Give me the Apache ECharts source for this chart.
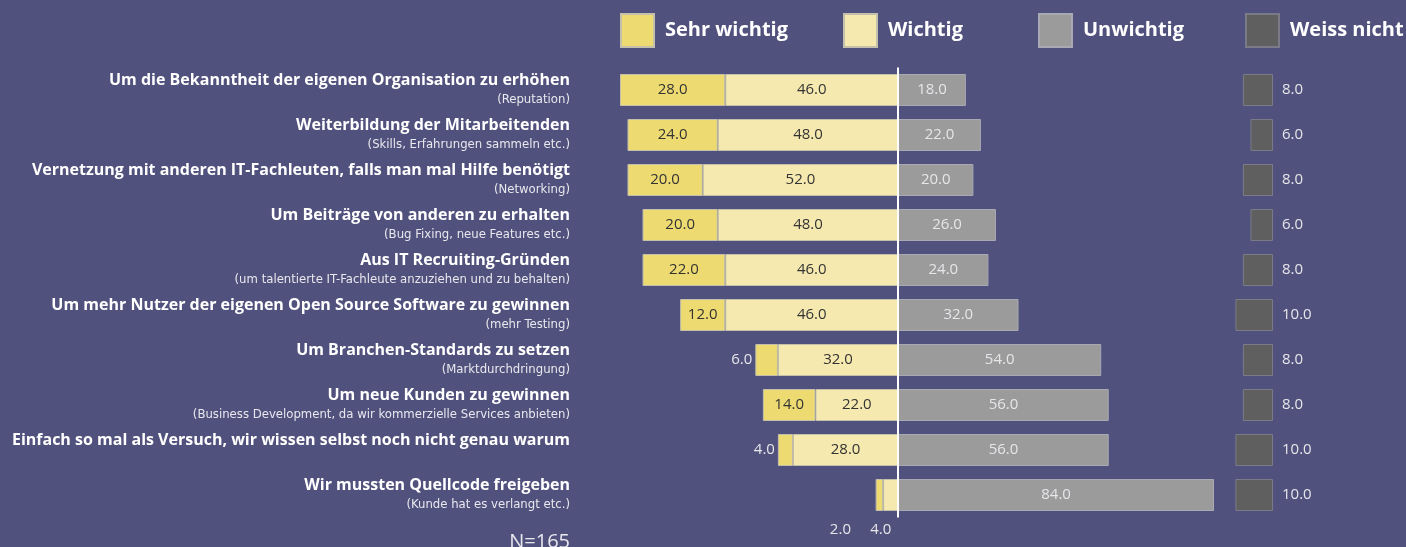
<!DOCTYPE html>
<html>
<head>
<meta charset="utf-8">
<script src="https://cdn.jsdelivr.net/npm/echarts@6/dist/echarts.min.js"></script>
<style>
  html, body { margin: 0; padding: 0; background: #51517d; }
  #main { width: 1406px; height: 547px; }
</style>
</head>
<body>
<div id="main"></div>
<script>
// Daten
var gruende = [
    'Um die Bekanntheit der eigenen Organisation zu erhöhen',
    'Weiterbildung der Mitarbeitenden',
    'Vernetzung mit anderen IT-Fachleuten, falls man mal Hilfe benötigt',
    'Um Beiträge von anderen zu erhalten',
    'Aus IT Recruiting-Gründen',
    'Um mehr Nutzer der eigenen Open Source Software zu gewinnen',
    'Um Branchen-Standards zu setzen',
    'Um neue Kunden zu gewinnen',
    'Einfach so mal als Versuch, wir wissen selbst noch nicht genau warum',
    'Wir mussten Quellcode freigeben'
];
var details = [
    '(Reputation)',
    '(Skills, Erfahrungen sammeln etc.)',
    '(Networking)',
    '(Bug Fixing, neue Features etc.)',
    '(um talentierte IT-Fachleute anzuziehen und zu behalten)',
    '(mehr Testing)',
    '(Marktdurchdringung)',
    '(Business Development, da wir kommerzielle Services anbieten)',
    '',
    '(Kunde hat es verlangt etc.)'
];
var sehrWichtig = [28, 24, 20, 20, 22, 12, 6, 14, 4, 2];
var wichtig = [46, 48, 52, 48, 46, 46, 32, 22, 28, 4];
var unwichtig = [18, 22, 20, 26, 24, 32, 54, 56, 56, 84];
var weissNicht = [8, 6, 8, 6, 8, 10, 8, 8, 10, 10];

var dunkel = '#333333';
var hell = '#e6e6ea';
var font = "'Open Sans', 'Noto Sans', sans-serif";

function fmt(p) {
    return Math.abs(p.value).toFixed(1);
}

// kleine Werte ausserhalb beschriften
var sehrData = sehrWichtig.map(function (v, i) {
    var d = { value: -v };
    if (i == 9) {
        d.label = { position: 'bottom', offset: [-39, 6], color: hell };
    } else if (v < 10) {
        d.label = { position: 'left', color: hell, distance: 3 };
    }
    return d;
});
var wichtigData = wichtig.map(function (v, i) {
    var d = { value: -v };
    if (i == 9) {
        d.label = { position: 'bottom', offset: [-10, 6], color: hell };
    }
    return d;
});

var myChart = echarts.init(document.getElementById('main'));

var legendBase = {
    top: 13,
    padding: 0,
    itemWidth: 33,
    itemHeight: 33,
    selectedMode: false,
    icon: 'rect',
    textStyle: { color: '#fff', fontSize: 20, fontWeight: 'bold', fontFamily: font, padding: [0, 0, 0, 6] }
};

var option = {
    backgroundColor: '#51517d',
    animation: false,
    legend: [
        Object.assign({ left: 620, data: ['Sehr wichtig'] }, legendBase),
        Object.assign({ left: 843, data: ['Wichtig'] }, legendBase),
        Object.assign({ left: 1038, data: ['Unwichtig'] }, legendBase),
        Object.assign({ left: 1245, data: ['Weiss nicht'] }, legendBase)
    ],
    grid: [
        { left: 620, right: 192, top: 67.5, bottom: 29.5 },
        { left: 1235.4, right: 133, top: 67.5, bottom: 29.5 }
    ],
    xAxis: [
        { type: 'value', gridIndex: 0, min: -74, max: 84, show: false },
        { type: 'value', gridIndex: 1, min: 0, max: 10, inverse: true, show: false }
    ],
    yAxis: [
        {
            type: 'category',
            gridIndex: 0,
            inverse: true,
            data: gruende,
            axisLine: { show: false },
            axisTick: { show: false },
            axisLabel: {
                margin: 50,
                formatter: function (value, idx) {
                    return '{m|' + value + '}\n{s|' + (details[idx] || ' ') + '}';
                },
                rich: {
                    m: { color: '#fff', fontSize: 16, fontWeight: 'bold', fontFamily: font, lineHeight: 20, align: 'right' },
                    s: { color: '#e8e8ee', fontSize: 13, fontFamily: "'Liberation Sans Narrow', 'DejaVu Sans Condensed', sans-serif", lineHeight: 20, align: 'right' }
                }
            }
        },
        { type: 'category', gridIndex: 1, inverse: true, data: gruende, show: false }
    ],
    graphic: [{
        type: 'text',
        right: 1406 - 570,
        top: 532,
        style: { text: 'N=165', fill: '#e8e8ee', fontSize: 20, fontFamily: font }
    }],
    series: [
        {
            name: 'Wichtig',
            type: 'bar',
            stack: 'a',
            barWidth: 32,
            data: wichtigData,
            itemStyle: { color: '#f5e9b0', borderColor: '#c4c0ac', borderWidth: 1 },
            label: { show: true, formatter: fmt, color: dunkel, fontSize: 15, fontFamily: font }
        },
        {
            name: 'Sehr wichtig',
            type: 'bar',
            stack: 'a',
            barWidth: 32,
            data: sehrData,
            itemStyle: { color: '#eddb72', borderColor: '#c4c0ac', borderWidth: 1 },
            label: { show: true, formatter: fmt, color: dunkel, fontSize: 15, fontFamily: font }
        },
        {
            name: 'Unwichtig',
            type: 'bar',
            stack: 'a',
            barWidth: 32,
            data: unwichtig,
            itemStyle: { color: '#9b9b9b', borderColor: '#a9a9b4', borderWidth: 1 },
            label: { show: true, formatter: fmt, color: hell, fontSize: 15, fontFamily: font },
            markLine: {
                silent: true,
                symbol: 'none',
                label: { show: false },
                lineStyle: { color: '#ffffff', width: 2, type: 'solid' },
                data: [{ xAxis: 0 }]
            }
        },
        {
            name: 'Weiss nicht',
            type: 'bar',
            xAxisIndex: 1,
            yAxisIndex: 1,
            barWidth: 32,
            data: weissNicht,
            itemStyle: { color: '#5f5f5f', borderColor: '#7a7a88', borderWidth: 1 },
            label: { show: true, position: 'right', distance: 9, formatter: fmt, color: hell, fontSize: 15, fontFamily: font }
        }
    ]
};
myChart.setOption(option);
</script>
</body>
</html>
